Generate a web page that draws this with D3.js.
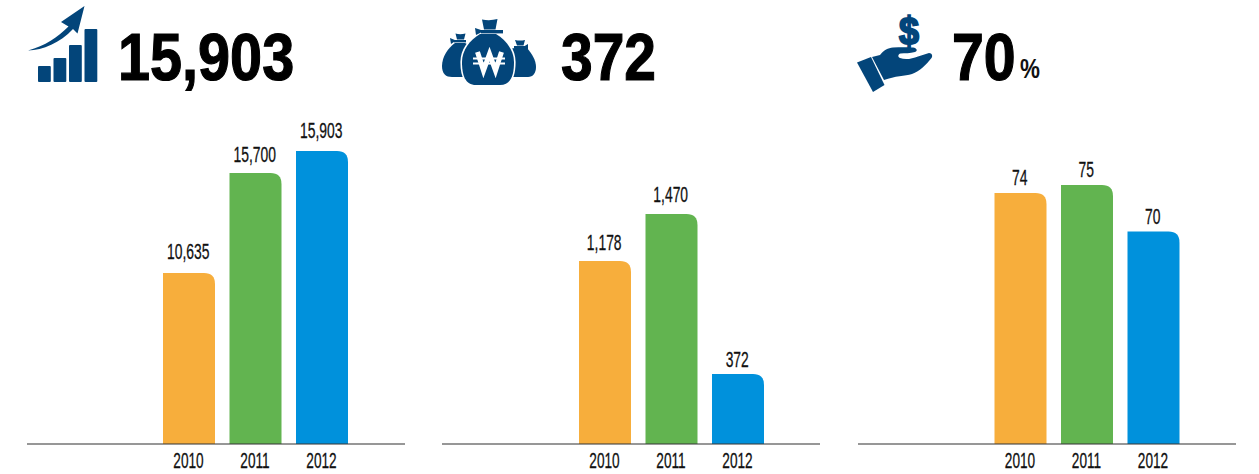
<!DOCTYPE html>
<html><head><meta charset="utf-8">
<style>html,body{margin:0;padding:0;background:#fff}svg{display:block}
text{font-family:"Liberation Sans",Arial,sans-serif}</style>
<script src="https://cdn.jsdelivr.net/npm/d3@7/dist/d3.min.js"></script>
</head><body><script>
const years = ["2010","2011","2012"];
const revenue = [10635,15700,15903];
const profit = [1178,1470,372];
const ratio = [74,75,70];
const headlines = ["15,903","372","70"];
const barColors = ["#F7AE3C","#62B450","#0091DC"];

const W=1259,H=474,navy="#03457A",baseY=444;
const svg=d3.select("body").append("svg").attr("width",W).attr("height",H);

// The reference's bars are not proportional to their labels, so each panel
// uses a piecewise scale whose range holds the tops measured in the picture.
const panels=[
 {values:revenue,x0:27,start:163,tops:[273,173,151],gaps:[14,11,13],head:{x:118,sx:.86}},
 {values:profit,x0:442,start:579,tops:[261,214,374],gaps:[11,12,7],head:{x:561,sx:.85}},
 {values:ratio,x0:858,start:994.5,tops:[193,185,231.5],gaps:[8,8,8],head:{x:952,sx:.855}}
];

function barPath(x,y,w,b,r){
  return `M${x},${b}V${y}H${x+w-r}Q${x+w},${y} ${x+w},${y+r}V${b}Z`;
}
panels.forEach((p,i)=>{
  const g=svg.append("g");
  const x=d3.scaleBand().domain(years).range([p.start,p.start+185]).paddingInner(.218).paddingOuter(0);
  const pairs=d3.zip(p.values,p.tops).sort((a,b)=>a[0]-b[0]);
  const y=d3.scaleLinear().domain([0,...pairs.map(d=>d[0])]).range([baseY,...pairs.map(d=>d[1])]);
  const data=years.map((yr,j)=>({yr,v:p.values[j],c:barColors[j],gap:p.gaps[j]}));
  g.selectAll("path.bar").data(data).join("path").attr("class","bar")
    .attr("fill",d=>d.c)
    .attr("d",d=>barPath(x(d.yr),y(d.v),x.bandwidth(),baseY,11));
  g.selectAll("text.val").data(data).join("text").attr("class","val")
    .attr("transform",d=>`translate(${x(d.yr)+x.bandwidth()/2-.8},${y(d.v)-d.gap}) scale(.63,1)`)
    .attr("text-anchor","middle").attr("font-size",22).attr("fill","#111")
    .attr("stroke","#111").attr("stroke-width",.3)
    .text(d=>d3.format(",")(d.v));
  // axis
  const ax=g.append("g").attr("transform",`translate(0,${baseY})`).call(d3.axisBottom(x).tickSize(0));
  ax.select(".domain").remove();
  ax.selectAll("text").attr("font-size",22).attr("fill","#111")
    .attr("stroke","#111").attr("stroke-width",.3)
    .attr("font-family",'"Liberation Sans"').attr("text-anchor","middle")
    .attr("dy",0).attr("y",0)
    .attr("transform","translate(-.5,23.5) scale(.62,1)");
  g.append("line").attr("x1",p.x0).attr("x2",p.x0+378).attr("y1",baseY).attr("y2",baseY)
    .attr("stroke","#3a3a3a").attr("stroke-opacity",.7).attr("stroke-width",1.6);
  // headline
  svg.append("text").attr("transform",`translate(${p.head.x},80) scale(${p.head.sx},1)`)
    .attr("font-size",67).attr("font-weight",700).attr("fill","#000")
    .attr("stroke","#000").attr("stroke-width",1.2).text(headlines[i]);
});
svg.append("text").attr("transform","translate(1020,78) scale(.83,1)")
  .attr("font-size",27).attr("font-weight",700).attr("fill","#111").text("%");

// icon 1: rising bars and arrow
const ic1=svg.append("g").attr("fill",navy);
[[38,66],[53.5,58],[69,45],[84.5,29]].forEach(([a,t])=>
  ic1.append("rect").attr("x",a).attr("y",t).attr("width",12.8).attr("height",82-t).attr("rx",1));
ic1.append("path").attr("d","M28,50.5C45,46 58,37 68.5,26.5L61,22L84.5,6L77.5,33.5L73,29C60,43 43,50 28,50.5Z");

// icon 2: money bags
const ic2=svg.append("g").attr("fill",navy);
ic2.append("path").attr("d","M455,43C448,48 442,57 442,66C442,74 446,77 452,77H478V50L465,43Z");
ic2.append("path").attr("d","M527,48C532,54 536,60 536,67C536,73 533,77 528,77H500V50L515,48Z");
ic2.append("path").attr("d","M455.5,33.5Q460,35 465.5,33.5L464,39.5H457Z");
ic2.append("rect").attr("x",454).attr("y",40).attr("width",12).attr("height",2.4);
ic2.append("path").attr("d","M450,38L456,40.5L451,44Z");
ic2.append("path").attr("d","M515,40Q520,41 525,40L523.5,45.5H517Z");
ic2.append("rect").attr("x",514).attr("y",46).attr("width",12).attr("height",2.2);
ic2.append("path").attr("d","M528,44L523,47L528,50Z");
// centre bag with white halo
ic2.append("path").attr("stroke","#fff").attr("stroke-width",3.2).attr("paint-order","stroke")
  .attr("d","M480,34C470,40 462,50 462,62C462,75 465,85 476,85H500C511,85 514,75 514,62C514,50 506,40 496,34Z");
ic2.append("path").attr("d","M482,19.5Q490,21 497.5,19L495.5,29.5H484Z");
ic2.append("rect").attr("x",481).attr("y",30).attr("width",22).attr("height",3.4);
ic2.append("path").attr("d","M475,28L484,31L476,35Z");
// won sign
const won=svg.append("g").attr("fill","none").attr("stroke","#fff");
won.append("path").attr("stroke-width",5).attr("d","M477.5,52L483.5,70.5L489.5,54L495.5,70.5L501.5,52");
won.append("path").attr("stroke-width",2).attr("d","M473,58.5H505M473,63.5H505");

// icon 3: hand with dollar
const ic3=svg.append("g").attr("fill",navy);
ic3.append("path").attr("d","M857,62.5L871,57L884.5,85L873,92Z");
ic3.append("path").attr("d","M872,57L880,55C884,50 888,48 893,47.5C900,47 908,47 913,47.5C917,48 918,51 915,52C910,53.5 905,53 900.5,53.5C898,54 897.5,57 900,58C905,60 912,59 918,56.5L929,53C932,53 933,56 931.5,58C926,65 920,71 912,74C905,76 895,76 884,80Z");
svg.append("text").attr("transform","translate(899,44) scale(.92,1)")
  .attr("font-size",39).attr("font-weight",700).attr("fill",navy).attr("stroke",navy).attr("stroke-width",2).text("$");
</script></body></html>
